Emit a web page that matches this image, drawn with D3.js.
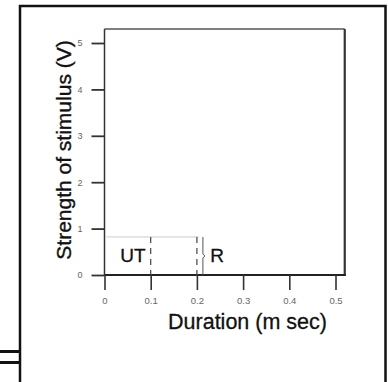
<!DOCTYPE html>
<html>
<head>
<meta charset="utf-8">
<script src="https://cdn.jsdelivr.net/npm/d3@7"></script>
<style>
  body { margin: 0; background: #fff; }
  text { font-family: "Liberation Sans", Arial, sans-serif; }
</style>
</head>
<body>
<div id="chart"></div>
<script>
// values
var xTicks = [0, 0.1, 0.2, 0.3, 0.4, 0.5]
var yTicks = [0, 1, 2, 3, 4, 5]
var xLabels = ["0", "0.1", "0.2", "0.3", "0.4", "0.5"]
var yLabels = ["0", "1", "2", "3", "4", "5"]
var rheobase = 0.82          // level of the faint line, V
var dashedAt = [0.1, 0.2]    // utilization time marks, m sec
var bracketAt = 0.213
var boxMax = [0.52, 5.3]     // extent of the frame round the plot
var notes = [{t: "UT", x: 0.034, y: 0.28}, {t: "R", x: 0.229, y: 0.28}]

var W = 389, H = 382

var svg = d3.select("#chart").append("svg")
    .attr("width", W)
    .attr("height", H)

var x = d3.scaleLinear().domain([0, 0.5]).range([104.5, 335.5])
var y = d3.scaleLinear().domain([0, 5]).range([275, 43])

// outer page frame
svg.append("path")
    .attr("d", "M20,382 L20,6 L385.5,6 L385.5,382")
    .attr("fill", "none")
    .attr("stroke", "#111")
    .attr("stroke-width", 2.5)

svg.selectAll(".dbl").data([351.5, 362.5])
    .enter().append("line")
    .attr("class", "dbl")
    .attr("x1", 0).attr("x2", 19)
    .attr("y1", d => d).attr("y2", d => d)
    .attr("stroke", "#111")
    .attr("stroke-width", 3)

// plot frame
svg.append("path")
    .attr("d", "M" + x(0) + "," + y(boxMax[1]) + " L" + x(boxMax[0]) + "," + y(boxMax[1]))
    .attr("stroke", "#555").attr("stroke-width", 1.5).attr("fill", "none")
svg.append("line")
    .attr("x1", x(boxMax[0])).attr("x2", x(boxMax[0]))
    .attr("y1", y(boxMax[1])).attr("y2", y(0) + 1)
    .attr("stroke", "#333").attr("stroke-width", 2.2)
svg.append("line")
    .attr("x1", x(0)).attr("x2", x(0))
    .attr("y1", y(boxMax[1])).attr("y2", y(0))
    .attr("stroke", "#333").attr("stroke-width", 1.5)
svg.append("line")
    .attr("x1", x(0)).attr("x2", x(boxMax[0]) + 1)
    .attr("y1", y(0)).attr("y2", y(0))
    .attr("stroke", "#222").attr("stroke-width", 2)

// y axis ticks
var yAxis = d3.axisLeft(y).tickValues(yTicks)
    .tickFormat((d, i) => yLabels[i])
    .tickSize(13).tickPadding(9)
var gy = svg.append("g").attr("transform", "translate(" + x(0) + ",0)").call(yAxis)
gy.select(".domain").remove()
gy.selectAll("line").attr("stroke", "#333").attr("stroke-width", 1.8)
gy.selectAll("text").attr("fill", "#666").style("font-size", "9px")

// x axis ticks
var xAxis = d3.axisBottom(x).tickValues(xTicks)
    .tickFormat((d, i) => xLabels[i])
    .tickSize(15).tickPadding(7)
var gx = svg.append("g").attr("transform", "translate(0," + y(0) + ")").call(xAxis)
gx.select(".domain").remove()
gx.selectAll("line").attr("stroke", "#333").attr("stroke-width", 1.6)
gx.selectAll("text").attr("fill", "#666").style("font-size", "9.5px")

// rheobase line and marks
svg.append("line")
    .attr("x1", x(0) + 2).attr("x2", x(bracketAt) - 4)
    .attr("y1", y(rheobase)).attr("y2", y(rheobase))
    .attr("stroke", "#ccc").attr("stroke-width", 1)

svg.selectAll(".dash").data(dashedAt)
    .enter().append("line")
    .attr("class", "dash")
    .attr("x1", d => x(d)).attr("x2", d => x(d))
    .attr("y1", y(rheobase)).attr("y2", y(0))
    .attr("stroke", "#444").attr("stroke-width", 1.2)
    .attr("stroke-dasharray", "6,5")

// bracket next to R
var bx = x(bracketAt), bt = y(rheobase), bb = y(0), bm = (bt + bb) / 2
svg.append("path")
    .attr("d", "M" + bx + "," + bt + " L" + bx + "," + (bm - 2) + " L" + (bx + 2) + "," + bm +
        " L" + bx + "," + (bm + 2) + " L" + bx + "," + bb)
    .attr("fill", "none").attr("stroke", "#555").attr("stroke-width", 1)

svg.selectAll(".note").data(notes)
    .enter().append("text")
    .attr("class", "note")
    .attr("x", d => x(d.x)).attr("y", d => y(d.y))
    .text(d => d.t)
    .style("font-size", "19px")
    .attr("fill", "#111")
    .attr("stroke", "#111").attr("stroke-width", 0.3)

// axis titles
svg.append("text")
    .attr("transform", "translate(71,150) rotate(-90)")
    .attr("text-anchor", "middle")
    .text("Strength of stimulus (V)")
    .style("font-size", "21px")
    .attr("fill", "#111")
    .attr("stroke", "#111").attr("stroke-width", 0.35)

svg.append("text")
    .attr("x", 247.5).attr("y", 329)
    .attr("text-anchor", "middle")
    .text("Duration (m sec)")
    .style("font-size", "21.5px")
    .attr("fill", "#111")
    .attr("stroke", "#111").attr("stroke-width", 0.3)
</script>
</body>
</html>
